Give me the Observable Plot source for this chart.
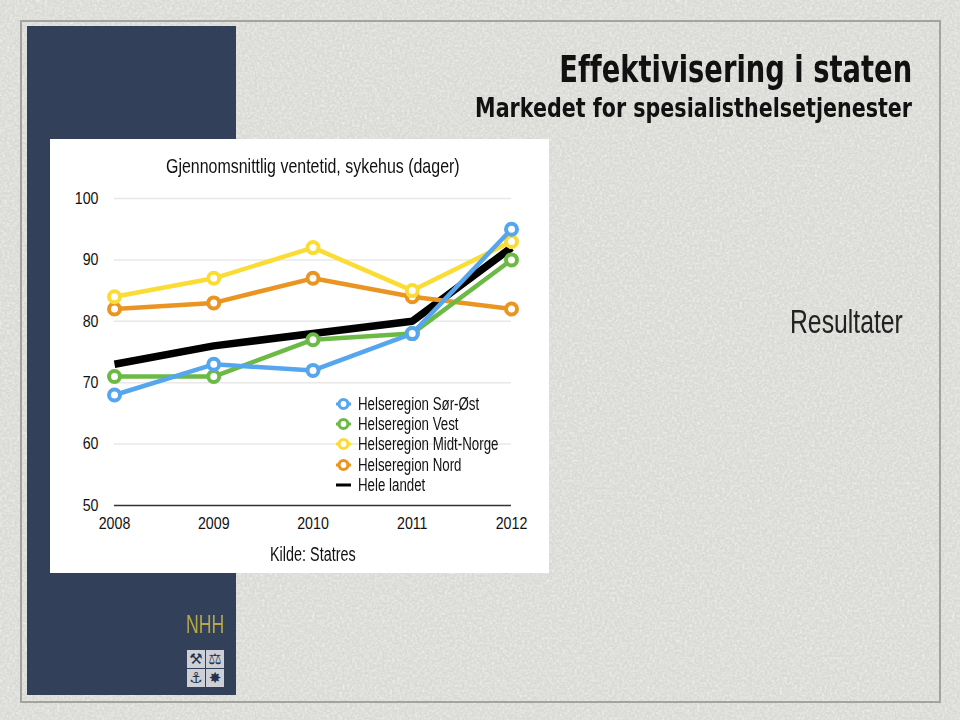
<!DOCTYPE html>
<html><head><meta charset="utf-8">
<script src="https://cdn.jsdelivr.net/npm/d3@7"></script>
<script src="https://cdn.jsdelivr.net/npm/@observablehq/plot@0.6"></script>
<style>
html,body{margin:0;padding:0;width:960px;height:720px;overflow:hidden;background:#dcdcd8}
#page{position:relative;width:960px;height:720px;overflow:hidden;font-family:"Liberation Sans",sans-serif;color:#111}
#tex{position:absolute;left:0;top:0}
#frame{position:absolute;left:20px;top:20px;width:917px;height:679px;border:2px solid #a3a3a0;box-sizing:content-box}
#navy{position:absolute;left:27px;top:26px;width:209px;height:669px;background:#324059}
#panel{position:absolute;left:50px;top:139px;width:499px;height:434px;background:#fff}
#panel>svg{position:absolute;left:0;top:0;background:transparent}
.t{position:absolute;white-space:nowrap;font-variant-ligatures:none}
#h1{right:48px;top:47px;font-size:38px;font-weight:700;font-family:"DejaVu Sans Condensed",sans-serif;transform-origin:right top;transform:scaleX(.8)}
#h2{right:48px;top:92px;font-size:27px;font-weight:700;font-family:"DejaVu Sans Condensed",sans-serif;transform-origin:right top;transform:scaleX(.85)}
#res{left:790px;top:303px;font-size:33px;color:#222;transform-origin:left top;transform:scaleX(.75)}
#ctitle{left:116px;top:15px;font-size:21px;transform-origin:left top;transform:scaleX(.76)}
#src{left:220px;top:404px;font-size:20px;transform-origin:left top;transform:scaleX(.72)}
#legend{position:absolute;left:286px;top:255px;font-size:17.5px;line-height:20.2px}
#legend .row{display:flex;align-items:center;height:20.2px}
#legend svg{margin-right:7px;flex:none}
#legend span{display:inline-block;transform-origin:left center;transform:scaleX(.76);white-space:nowrap}
#nhh{left:186px;top:609px;font-size:26px;color:#b7a84a;transform-origin:left top;transform:scaleX(.68)}
#logo{position:absolute;left:187px;top:650px;width:37px;height:37px;display:grid;grid-template-columns:18px 18px;grid-template-rows:18px 18px;gap:1px}
#logo div{background:#cdd0d6;color:#26324a;font:15px/18px "DejaVu Sans";text-align:center}
</style></head><body>
<div id="page">
<svg id="tex" width="960" height="720"><filter id="n"><feTurbulence type="fractalNoise" baseFrequency=".4" numOctaves="4" seed="4"/><feColorMatrix values="0 0 0 0 .96  0 0 0 0 .96  0 0 0 0 .94  .8 .8 0 0 -.65"/></filter><rect width="960" height="720" fill="#d9d9d5"/><rect width="960" height="720" filter="url(#n)"/></svg>
<div id="frame"></div>
<div id="navy"></div>
<div class="t" id="h1">Effektivisering i staten</div>
<div class="t" id="h2">Markedet for spesialisthelsetjenester</div>
<div class="t" id="res">Resultater</div>
<div id="panel">
  <div class="t" id="ctitle">Gjennomsnittlig ventetid, sykehus (dager)</div>
  <div class="t" id="src">Kilde: Statres</div>
  <div id="legend"></div>
</div>
<div class="t" id="nhh">NHH</div>
<div id="logo"><div>⚒</div><div>⚖</div><div>⚓</div><div>✸</div></div>
</div>
<script>
const years = [2008, 2009, 2010, 2011, 2012];
const sorOst = [68, 73, 72, 78, 95];
const vest = [71, 71, 77, 78, 90];
const midtNorge = [84, 87, 92, 85, 93];
const nord = [82, 83, 87, 84, 82];
const heleLandet = [73, 76, 78, 80, 92];
const yTicks = [50, 60, 70, 80, 90, 100];
const gridTicks = [60, 70, 80, 90, 100];

const series = [
  {name: "Helseregion Sør-Øst", values: sorOst, color: "#55a6ee", dot: true},
  {name: "Helseregion Vest", values: vest, color: "#6cba45", dot: true},
  {name: "Helseregion Midt-Norge", values: midtNorge, color: "#fbdc35", dot: true},
  {name: "Helseregion Nord", values: nord, color: "#ea9422", dot: true},
  {name: "Hele landet", values: heleLandet, color: "#000000", dot: false}
];
const rows = s => years.map((y, i) => ({year: y, value: s.values[i]}));
const drawOrder = [series[4], series[3], series[2], series[1], series[0]];

const chart = Plot.plot({
  width: 499, height: 434,
  marginLeft: 64, marginRight: 38, marginTop: 59, marginBottom: 68,
  style: {background: "transparent", fontFamily: '"Liberation Sans",sans-serif', fontSize: "16.5px", color: "#111"},
  x: {domain: [2008, 2012], label: null},
  y: {domain: [50, 100], label: null},
  marks: [
    Plot.ruleY(gridTicks, {stroke: "#e8e8e8", strokeWidth: 1.5}),
    Plot.ruleY([50], {stroke: "#333", strokeWidth: 1.5}),
    Plot.axisY({ticks: yTicks, tickSize: 0, tickPadding: 16, label: null}),
    Plot.axisX({ticks: years, tickFormat: d => String(d), tickSize: 0, tickPadding: 12, label: null}),
    ...drawOrder.flatMap(s => [
      Plot.line(rows(s), {x: "year", y: "value", stroke: s.color, strokeWidth: s.dot ? 4.5 : 7.5, strokeLinecap: s.dot ? "round" : "butt", strokeLinejoin: s.dot ? "round" : "miter"}),
      ...(s.dot ? [Plot.dot(rows(s), {x: "year", y: "value", r: 5.5, fill: "#fff", stroke: s.color, strokeWidth: 4})] : [])
    ])
  ]
});
document.getElementById("panel").prepend(chart);
// condense the tick labels to the narrow face of the reference
chart.querySelectorAll('g[aria-label="y-axis tick label"] text, g[aria-label="x-axis tick label"] text').forEach(t => {
  t.setAttribute("textLength", t.getComputedTextLength() * 0.86);
  t.setAttribute("lengthAdjust", "spacingAndGlyphs");
});

const legend = document.getElementById("legend");
series.forEach(s => {
  const row = document.createElement("div");
  row.className = "row";
  const mark = s.dot
    ? `<line x1="0" x2="15" y1="8" y2="8" stroke="${s.color}" stroke-width="3"/><circle cx="7.5" cy="8" r="4.5" fill="#fff" stroke="${s.color}" stroke-width="3.2"/>`
    : `<line x1="0" x2="15" y1="8" y2="8" stroke="${s.color}" stroke-width="3"/>`;
  row.innerHTML = `<svg width="15" height="16">${mark}</svg><span>${s.name}</span>`;
  legend.appendChild(row);
});
</script>
</body></html>
